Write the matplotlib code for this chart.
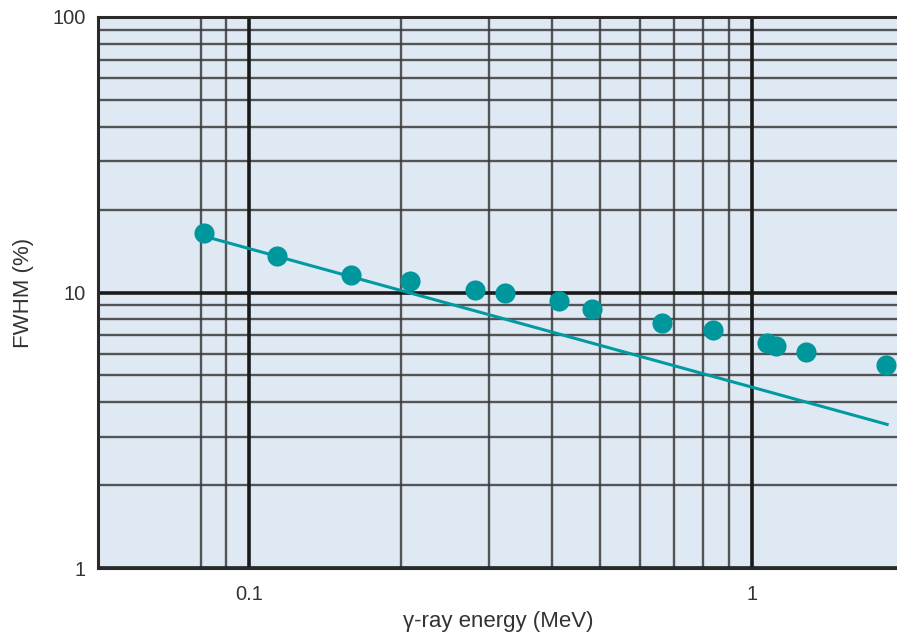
import matplotlib
matplotlib.use("Agg")
import matplotlib.pyplot as plt
from matplotlib.ticker import FixedLocator, NullFormatter, FixedFormatter

plt.rcParams['font.family'] = ['Liberation Sans', 'DejaVu Sans']

# Measured energy resolution (FWHM) versus gamma-ray energy
energy_mev = [0.0814, 0.1137, 0.1595, 0.209, 0.281, 0.323, 0.413, 0.481,
              0.662, 0.837, 1.071, 1.116, 1.28, 1.846]
fwhm_pct = [16.4, 13.6, 11.6, 11.0, 10.2, 10.0, 9.35, 8.68,
            7.78, 7.34, 6.58, 6.37, 6.1, 5.47]

# Reference trend line end points
trend_energy = [0.0814, 1.86]
trend_fwhm = [16.0, 3.32]

x_minor_grid = [0.08, 0.09, 0.2, 0.3, 0.4, 0.5, 0.6, 0.7, 0.8, 0.9]
y_minor_grid = [m * d for d in (1, 10) for m in range(2, 10)]
x_major = [0.1, 1]
y_major = [1, 10, 100]
x_ticklabels = ["0.1", "1"]
y_ticklabels = ["1", "10", "100"]

W, H = 897, 633
fig = plt.figure(figsize=(W / 100, H / 100), dpi=100)
left, right_px, top, bottom = 98, 903, 17, 568
ax = fig.add_axes([left / W, (H - bottom) / H, (right_px - left) / W, (bottom - top) / H])
ax.set_facecolor("#dfe9f4")
ax.set_xscale("log")
ax.set_yscale("log")
ax.set_xlim(0.05, 2)
ax.set_ylim(1, 100)

for x in x_minor_grid:
    ax.axvline(x, color="#3a3a3a", lw=1.7, alpha=0.85, zorder=1)
for y in y_minor_grid:
    ax.axhline(y, color="#3a3a3a", lw=1.7, alpha=0.85, zorder=1)
for x in x_major:
    ax.axvline(x, color="#1a1a1a", lw=2.6, zorder=1.5)
for y in y_major:
    ax.axhline(y, color="#1a1a1a", lw=2.6, zorder=1.5)

ax.plot(trend_energy, trend_fwhm, color="#009aa0", lw=2.2, zorder=3)
ax.plot(energy_mev, fwhm_pct, "o", color="#00979c", ms=14.5, mec="none", zorder=4)

for side in ("top", "bottom", "left"):
    ax.spines[side].set_color("#2a2a2a")
    ax.spines[side].set_linewidth(2.2)
ax.spines["right"].set_visible(False)

ax.xaxis.set_major_locator(FixedLocator(x_major))
ax.xaxis.set_major_formatter(FixedFormatter(x_ticklabels))
ax.xaxis.set_minor_locator(FixedLocator([]))
ax.xaxis.set_minor_formatter(NullFormatter())
ax.yaxis.set_major_locator(FixedLocator(y_major))
ax.yaxis.set_major_formatter(FixedFormatter(y_ticklabels))
ax.yaxis.set_minor_locator(FixedLocator([]))
ax.yaxis.set_minor_formatter(NullFormatter())
ax.tick_params(axis="both", length=0, labelsize=14.5, colors="#333333")
ax.tick_params(axis="x", pad=12)
ax.tick_params(axis="y", pad=9)

fig.text(498 / W, 1 - 622 / H, "γ-ray energy (MeV)", fontsize=16, color="#333333",
         ha="center", va="center")
fig.text(24 / W, 1 - 293 / H, "FWHM (%)", fontsize=16, color="#333333",
         ha="center", va="center", rotation=90)

fig.savefig("out.png", dpi=100)
